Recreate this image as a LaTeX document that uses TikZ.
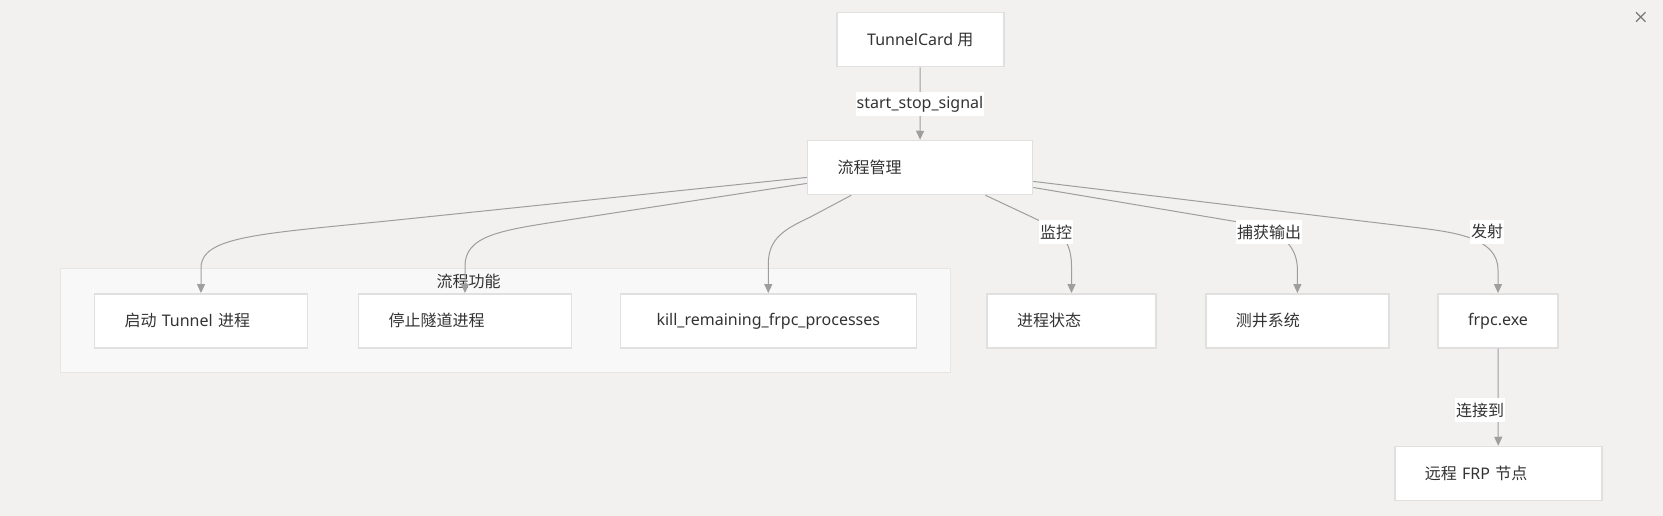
\documentclass[tikz,border=0pt]{standalone}
\usepackage{fontspec}
\setmainfont{Noto Sans}
\newfontfamily\cjk{Noto Sans CJK SC}
\usetikzlibrary{arrows.meta}

\definecolor{canvas}{RGB}{242,241,239}
\definecolor{groupfill}{RGB}{248,248,248}
\definecolor{groupline}{RGB}{230,230,230}
\definecolor{boxline}{RGB}{224,224,224}
\definecolor{edgegray}{RGB}{158,158,158}
\definecolor{closegray}{RGB}{120,120,120}
\definecolor{ink}{RGB}{51,51,51}

\begin{document}
\begin{tikzpicture}[x=1pt, y=-1pt]
\tikzset{ >={Triangle[length=9pt, width=8pt]}, font=\fontsize{16pt}{19pt}\selectfont, text=ink,
  card/.style={draw=boxline, line width=1.5pt, fill=white, minimum height=54pt, inner ysep=0pt},
  box/.style={card, inner xsep=30pt, text width=#1, align=left},
  cbox/.style={card, inner xsep=0pt, minimum width=#1, align=center},
  tag/.style={fill=white, inner xsep=1pt, inner ysep=0pt, minimum height=24pt},
  flow/.style={->, draw=edgegray, line width=1pt},
}

\fill [canvas] (0,0) rectangle (1663,516);
\useasboundingbox (0,0) rectangle (1663,516);
%\draw [lightgray, dashed] (0,0) grid [step=50] (1663,516);

% group
\node [draw=groupline, fill=groupfill, line width=1.5pt, minimum width=890pt, minimum height=104pt, inner sep=0pt] (grp) at (505.7,320.5) {};
\node (grplabel) at (468.7,281.7) {{\cjk 流程功能}};

\node [cbox=167] (tc) at (920.3,39.7) {TunnelCard {\cjk 用}};
\node [box=165] (pm) at (920,167.5) {{\cjk 流程管理}};

\node [box=153] (start)   at (201,320.8)    {{\cjk 启动} Tunnel {\cjk 进程}};
\node [box=153] (stop)    at (465,320.8)    {{\cjk 停止隧道进程}};
\node [cbox=296] (kill)   at (768.3,320.8)  {kill\_remaining\_frpc\_processes};
\node [box=109] (state)   at (1071.5,320.8) {{\cjk 进程状态}};
\node [box=123] (logging) at (1297.4,320.8) {{\cjk 测井系统}};
\node [cbox=120] (frpc)   at (1498,320.8)   {frpc.exe};
\node [box=147] (remote)  at (1498.3,473.5) {{\cjk 远程} FRP {\cjk 节点}};

\draw [flow] (tc) -- (pm);

\draw [flow] (pm.185) -- (397,220) .. controls (260,233.9) and (201,236) .. (201,268) -- (start.north);
\draw [flow] (pm.188) -- (560,221.2) .. controls (500,230.4) and (465,236) .. (465,266) -- (stop.north);
\draw [flow] (pm.202) -- (810,217.2) .. controls (785,229) and (768.3,238) .. (768.3,264) -- (kill.north);
\draw [flow] (pm.337) -- (1030,216.2) .. controls (1052,226.7) and (1071.5,234) .. (1071.5,266) -- (state.north);
\draw [flow] (pm.350) -- (1230,220.6) .. controls (1258,225.3) and (1297.4,232) .. (1297.4,270) -- (logging.north);
\draw [flow] (pm.353) -- (1420,228) .. controls (1455,232.5) and (1498,238) .. (1498,270) -- (frpc.north);

\draw [flow] (frpc) -- (remote);

% edge labels
\node [tag] (sig)  at (920,104)    {start\_stop\_signal};
\node [tag] (mon)  at (1056,232)   {{\cjk 监控}};
\node [tag] (cap)  at (1269,232)   {{\cjk 捕获输出}};
\node [tag] (emit) at (1487,231.7) {{\cjk 发射}};
\node [tag] (conn) at (1480,410)   {{\cjk 连接到}};

\draw [closegray, line width=1.2pt] (1636,12.3) -- (1645.5,21.7) (1636,21.7) -- (1645.5,12.3);

\end{tikzpicture}
\end{document}
